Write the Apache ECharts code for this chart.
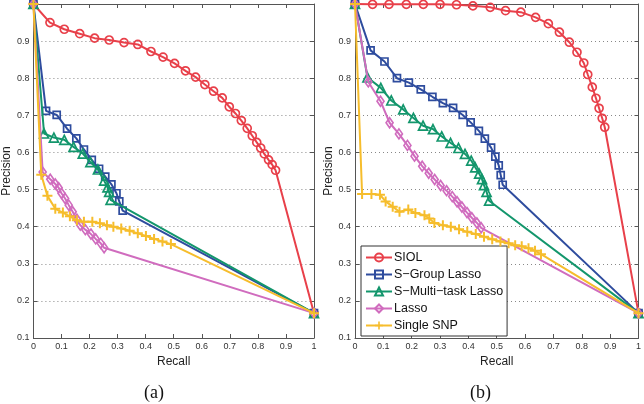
<!DOCTYPE html>
<html>
<head>
<meta charset="utf-8">
<script src="https://cdn.jsdelivr.net/npm/echarts@6/dist/echarts.min.js"></script>
<style>html,body{margin:0;padding:0;background:#fff}#c{width:644px;height:404px}</style>
</head>
<body>
<div id="c"></div>
<script>
var seriesNames = ['SIOL', 'S\u2212Group Lasso', 'S\u2212Multi\u2212task Lasso', 'Lasso', 'Single SNP'];
var xTickLabels = ['0','0.1','0.2','0.3','0.4','0.5','0.6','0.7','0.8','0.9','1'];
var yTickLabels = ['0.1','0.2','0.3','0.4','0.5','0.6','0.7','0.8','0.9'];

// Panel (a)
var siolA = [[0,1],[0.059,0.95],[0.11,0.932],[0.165,0.92],[0.218,0.908],[0.27,0.903],[0.323,0.896],[0.372,0.891],[0.419,0.872],[0.462,0.857],[0.503,0.84],[0.542,0.82],[0.578,0.803],[0.611,0.783],[0.642,0.765],[0.673,0.747],[0.698,0.723],[0.72,0.705],[0.741,0.686],[0.762,0.665],[0.78,0.645],[0.796,0.627],[0.81,0.612],[0.823,0.596],[0.838,0.58],[0.851,0.567],[0.863,0.552],[1,0.167]];
var sgroupA = [[0,1],[0.045,0.712],[0.083,0.701],[0.12,0.664],[0.153,0.638],[0.18,0.608],[0.208,0.58],[0.234,0.556],[0.256,0.535],[0.278,0.514],[0.296,0.49],[0.306,0.468],[0.318,0.443],[1,0.167]];
var smultiA = [[0,1],[0.038,0.651],[0.073,0.64],[0.11,0.634],[0.143,0.615],[0.176,0.597],[0.203,0.574],[0.23,0.554],[0.252,0.524],[0.264,0.506],[0.27,0.494],[0.275,0.472],[1,0.167]];
var lassoA = [[0,1],[0.033,0.547],[0.06,0.528],[0.078,0.515],[0.09,0.505],[0.1,0.49],[0.113,0.476],[0.126,0.458],[0.14,0.44],[0.155,0.42],[0.167,0.404],[0.185,0.392],[0.205,0.38],[0.222,0.367],[0.24,0.355],[0.252,0.343],[1,0.167]];
var snpA = [[0,1],[0.028,0.54],[0.05,0.483],[0.078,0.448],[0.105,0.438],[0.13,0.428],[0.155,0.417],[0.18,0.413],[0.21,0.413],[0.237,0.409],[0.262,0.404],[0.285,0.4],[0.313,0.395],[0.343,0.389],[0.372,0.382],[0.401,0.375],[0.43,0.367],[0.46,0.36],[0.49,0.353],[1,0.167]];

// Panel (b)
var siolB = [[0,1],[0.062,0.999],[0.12,0.999],[0.181,0.999],[0.241,0.999],[0.3,0.999],[0.358,0.998],[0.416,0.995],[0.477,0.991],[0.531,0.982],[0.585,0.978],[0.637,0.964],[0.682,0.947],[0.721,0.924],[0.756,0.897],[0.783,0.87],[0.807,0.841],[0.821,0.81],[0.837,0.776],[0.85,0.746],[0.861,0.719],[0.872,0.692],[0.881,0.668],[1,0.167]];
var sgroupB = [[0,1],[0.055,0.875],[0.104,0.845],[0.148,0.8],[0.19,0.788],[0.232,0.77],[0.273,0.75],[0.31,0.733],[0.346,0.72],[0.38,0.701],[0.408,0.681],[0.437,0.658],[0.458,0.637],[0.48,0.613],[0.495,0.589],[0.507,0.565],[0.514,0.539],[0.521,0.513],[1,0.167]];
var smultiB = [[0,1],[0.044,0.802],[0.091,0.774],[0.128,0.74],[0.17,0.716],[0.206,0.693],[0.24,0.672],[0.275,0.663],[0.306,0.643],[0.337,0.626],[0.365,0.612],[0.388,0.596],[0.41,0.578],[0.424,0.56],[0.438,0.543],[0.448,0.528],[0.455,0.512],[0.464,0.494],[0.473,0.47],[1,0.167]];
var lassoB = [[0,1],[0.047,0.79],[0.09,0.738],[0.122,0.68],[0.155,0.65],[0.185,0.619],[0.21,0.59],[0.237,0.563],[0.26,0.544],[0.281,0.527],[0.302,0.511],[0.323,0.497],[0.343,0.481],[0.36,0.467],[0.377,0.453],[0.395,0.438],[0.412,0.424],[0.43,0.41],[0.445,0.397],[1,0.167]];
var snpB = [[0,1],[0.025,0.488],[0.058,0.488],[0.088,0.486],[0.108,0.468],[0.133,0.454],[0.157,0.44],[0.188,0.446],[0.213,0.437],[0.245,0.431],[0.262,0.422],[0.28,0.41],[0.31,0.404],[0.338,0.4],[0.367,0.393],[0.396,0.386],[0.426,0.38],[0.455,0.373],[0.484,0.366],[0.513,0.36],[0.542,0.355],[0.565,0.35],[0.588,0.347],[0.612,0.342],[0.635,0.335],[0.656,0.326],[1,0.167]];

var colors = ['#E8404A', '#2E4C9E', '#13966C', '#D06CBE', '#F6BD2C'];
var PLUS = 'path://M4,0 L6,0 L6,4 L10,4 L10,6 L6,6 L6,10 L4,10 L4,6 L0,6 L0,4 L4,4 Z';
var symbols = ['circle', 'rect', 'triangle', 'diamond', PLUS];
var sizes = [8, 7, 9, [7,10], 10];

var dataA = [siolA, sgroupA, smultiA, lassoA, snpA];
var dataB = [siolB, sgroupB, smultiB, lassoB, snpB];

var axisColor = '#555';
var fontFam = 'Liberation Sans, Arial, sans-serif';

function mkX(gi, pos, labels) {
  return {
    type: 'value', gridIndex: gi, position: pos, min: 0, max: 1, interval: 0.1,
    axisLine: {show: true, onZero: false, lineStyle: {color: axisColor, width: 1}},
    axisTick: {show: true, inside: true, length: 4, lineStyle: {color: axisColor}},
    axisLabel: {show: labels, fontSize: 9, color: '#333', fontFamily: fontFam, margin: 4,
      formatter: function (v) { return xTickLabels[Math.round(v * 10)]; }},
    splitLine: {show: false},
    name: labels ? 'Recall' : '', nameLocation: 'middle', nameGap: 13,
    nameTextStyle: {fontSize: 12, color: '#222', fontFamily: fontFam}
  };
}
function mkY(gi, pos, labels) {
  return {
    type: 'value', gridIndex: gi, position: pos, min: 0.1, max: 1, interval: 0.1,
    axisLine: {show: true, onZero: false, lineStyle: {color: axisColor, width: 1}},
    axisTick: {show: true, inside: true, length: 4, lineStyle: {color: axisColor}},
    axisLabel: {show: labels, fontSize: 9, color: '#333', fontFamily: fontFam, margin: 4, showMaxLabel: false,
      formatter: function (v) { var i = Math.round(v * 10) - 1; return yTickLabels[i] || ''; }},
    splitLine: {show: labels, lineStyle: {color: '#888', type: [1, 3], width: 1}},
    name: labels ? 'Precision' : '', nameLocation: 'middle', nameGap: 19, nameRotate: 90,
    nameTextStyle: {fontSize: 12, color: '#222', fontFamily: fontFam}
  };
}

var series = [];
[dataA, dataB].forEach(function (set, gi) {
  set.forEach(function (d, i) {
    var isPlus = i === 4;
    series.push({
      type: 'line', name: seriesNames[i], data: d,
      xAxisIndex: gi * 2, yAxisIndex: gi * 2,
      symbol: symbols[i], symbolSize: sizes[i], showAllSymbol: true,
      lineStyle: {color: colors[i], width: 2},
      itemStyle: isPlus ? {color: colors[i], borderWidth: 0}
                        : {color: 'rgba(255,255,255,0)', borderColor: colors[i], borderWidth: 1.7},
      z: 2 + i, animation: false, emphasis: {disabled: true}
    });
  });
});

var option = {
  backgroundColor: '#fff',
  animation: false,
  grid: [
    {left: 29, top: 4, width: 285, height: 334},
    {left: 355, top: 4, width: 286, height: 334}
  ],
  xAxis: [mkX(0, 'bottom', true), mkX(0, 'top', false), mkX(1, 'bottom', true), mkX(1, 'top', false)],
  yAxis: [mkY(0, 'left', true), mkY(0, 'right', false), mkY(1, 'left', true), mkY(1, 'right', false)],
  legend: {
    data: seriesNames, orient: 'vertical', left: 361, top: 246,
    padding: [5, 4, 4, 4], itemGap: 4, itemWidth: 26, itemHeight: 10,
    backgroundColor: '#fff', borderColor: '#333', borderWidth: 1, borderRadius: 0,
    textStyle: {fontSize: 12.5, color: '#111', fontFamily: fontFam, padding: [0,0,0,-3]},
    selectedMode: false
  },
  graphic: [
    {type: 'text', left: 144, top: 384, style: {text: '(a)', font: '18px "Liberation Serif", "Times New Roman", serif', fill: '#111'}},
    {type: 'text', left: 470, top: 384, style: {text: '(b)', font: '18px "Liberation Serif", "Times New Roman", serif', fill: '#111'}}
  ],
  series: series
};
var chart = echarts.init(document.getElementById('c'), null, {renderer: 'canvas'});
chart.setOption(option);
</script>
</body>
</html>
